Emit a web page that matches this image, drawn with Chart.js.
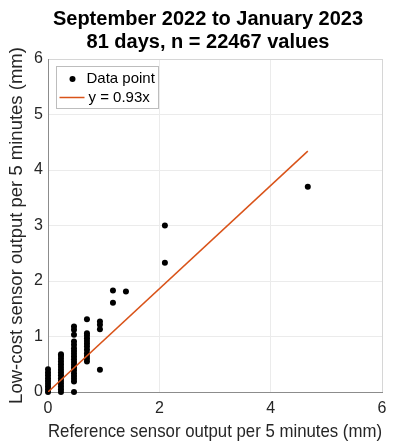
<!doctype html>
<html lang="en">
 <head>
  <meta charset="UTF-8">
  <title>Low-cost vs reference sensor</title>
  <script src="https://cdn.jsdelivr.net/npm/chart.js@4"></script>
  <style>
   html, body { margin: 0; padding: 0; background: #fff; }
   #wrap { width: 400px; height: 447px; }
  </style>
 </head>
 <body>
  <div id="wrap"><canvas id="chart" width="400" height="447"></canvas></div>
  <script>
// reference sensor levels (mm per 5 min) and low-cost readings at each level
const refLevels = [0, 0.233, 0.467, 0.7, 0.933, 1.167, 1.4, 2.1, 4.667];
const lowCostByLevel = [
  [0, 0.05, 0.1, 0.15, 0.2, 0.25, 0.3, 0.35, 0.41],
  [0, 0.05, 0.1, 0.15, 0.2, 0.25, 0.3, 0.35, 0.4, 0.45, 0.5, 0.55, 0.6, 0.65, 0.68],
  [0, 0.19, 0.24, 0.29, 0.34, 0.39, 0.44, 0.49, 0.54, 0.59, 0.64, 0.69, 0.74, 0.79, 0.85, 0.91, 1.03, 1.12, 1.18],
  [0.55, 0.6, 0.65, 0.7, 0.76, 0.82, 0.87, 0.92, 0.97, 1.02, 1.06, 1.31],
  [0.4, 1.13, 1.21, 1.27],
  [1.61, 1.83],
  [1.81],
  [2.33, 3.0],
  [3.7]
];
const slope = 0.93;
const titleLines = ['September 2022 to January 2023', '81 days, n = 22467 values'];
const legendLabels = ['Data point', 'y = 0.93x'];
const xLabel = 'Reference sensor output per 5 minutes (mm)';
const yLabel = 'Low-cost sensor output per 5 minutes (mm)';

const points = [];
refLevels.forEach((x, i) => {
  lowCostByLevel[i].forEach(y => points.push({x: x, y: y}));
});
const xMax = Math.max(...refLevels);
const fit = [0, xMax].map(x => ({x: x, y: slope * x}));

const lineColor = '#D95319';
const textColor = '#262626';
const fontFamily = '"Liberation Sans", Arial, sans-serif';

Chart.defaults.font.family = fontFamily;

// two-line bold title, centred a little left of the axes centre like the figure
const figTitle = {
  id: 'figTitle',
  afterDraw(chart) {
    const ctx = chart.ctx;
    ctx.save();
    ctx.fillStyle = '#000';
    ctx.font = 'bold 20px ' + fontFamily;
    ctx.textAlign = 'center';
    ctx.textBaseline = 'alphabetic';
    ctx.fillText(titleLines[0], 208, 25);
    ctx.fillText(titleLines[1], 208, 48);
    ctx.restore();
  }
};

// legend drawn inside the axes, MATLAB style
const boxLegend = {
  id: 'boxLegend',
  afterDraw(chart) {
    const ctx = chart.ctx, a = chart.chartArea;
    const x0 = a.left + 8.5, y0 = a.top + 7.5, w = 102, h = 42;
    ctx.save();
    ctx.fillStyle = '#fff';
    ctx.strokeStyle = '#bdbdbd';
    ctx.lineWidth = 1;
    ctx.fillRect(x0, y0, w, h);
    ctx.strokeRect(x0, y0, w, h);
    ctx.fillStyle = '#000';
    ctx.beginPath();
    ctx.arc(x0 + 16, y0 + 12.5, 3, 0, Math.PI * 2);
    ctx.fill();
    ctx.strokeStyle = lineColor;
    ctx.lineWidth = 1.5;
    ctx.beginPath();
    ctx.moveTo(x0 + 3, y0 + 31);
    ctx.lineTo(x0 + 28, y0 + 31);
    ctx.stroke();
    ctx.fillStyle = '#000';
    ctx.font = '15px ' + fontFamily;
    ctx.textBaseline = 'middle';
    ctx.fillText(legendLabels[0], x0 + 30, y0 + 12.5);
    ctx.fillText(legendLabels[1], x0 + 32, y0 + 31);
    ctx.restore();
  }
};

new Chart(document.getElementById('chart'), {
  type: 'scatter',
  data: {
    datasets: [
      {
        label: legendLabels[0],
        data: points,
        backgroundColor: '#000',
        borderColor: '#000',
        pointRadius: 3,
        pointBorderWidth: 0,
        clip: false,
        order: 1
      },
      {
        type: 'line',
        label: legendLabels[1],
        data: fit,
        borderColor: lineColor,
        borderWidth: 1.5,
        pointRadius: 0,
        fill: false,
        order: 0
      }
    ]
  },
  options: {
    responsive: false,
    animation: false,
    devicePixelRatio: 1,
    layout: { padding: { top: 59, right: 18, bottom: 0, left: 0 } },
    plugins: {
      legend: { display: false },
      tooltip: { enabled: false },
      title: { display: false }
    },
    scales: {
      x: {
        type: 'linear',
        min: 0,
        max: 6,
        ticks: { stepSize: 2, color: textColor, font: { size: 16 }, padding: 7 },
        grid: {
          drawTicks: false,
          color: c => c.tick && c.tick.value === 6 ? '#d6d6d6' : '#ebebeb'
        },
        border: { color: '#8c8c8c' },
        title: {
          display: true, text: xLabel, color: textColor,
          font: { size: 18.5 }, padding: { top: 0, bottom: 4 }
        },
        afterFit: s => { s.height = 55; }
      },
      y: {
        type: 'linear',
        min: 0,
        max: 6,
        ticks: { stepSize: 1, color: textColor, font: { size: 16 }, padding: 5 },
        grid: {
          drawTicks: false,
          color: c => c.tick && c.tick.value === 6 ? '#d6d6d6' : '#ebebeb'
        },
        border: { color: '#8c8c8c' },
        title: {
          display: true, text: yLabel, color: textColor,
          font: { size: 18.5 }, padding: { top: 6, bottom: 0 }
        },
        afterFit: s => { s.width = 48; }
      }
    }
  },
  plugins: [figTitle, boxLegend]
});
  </script>
 </body>
</html>
